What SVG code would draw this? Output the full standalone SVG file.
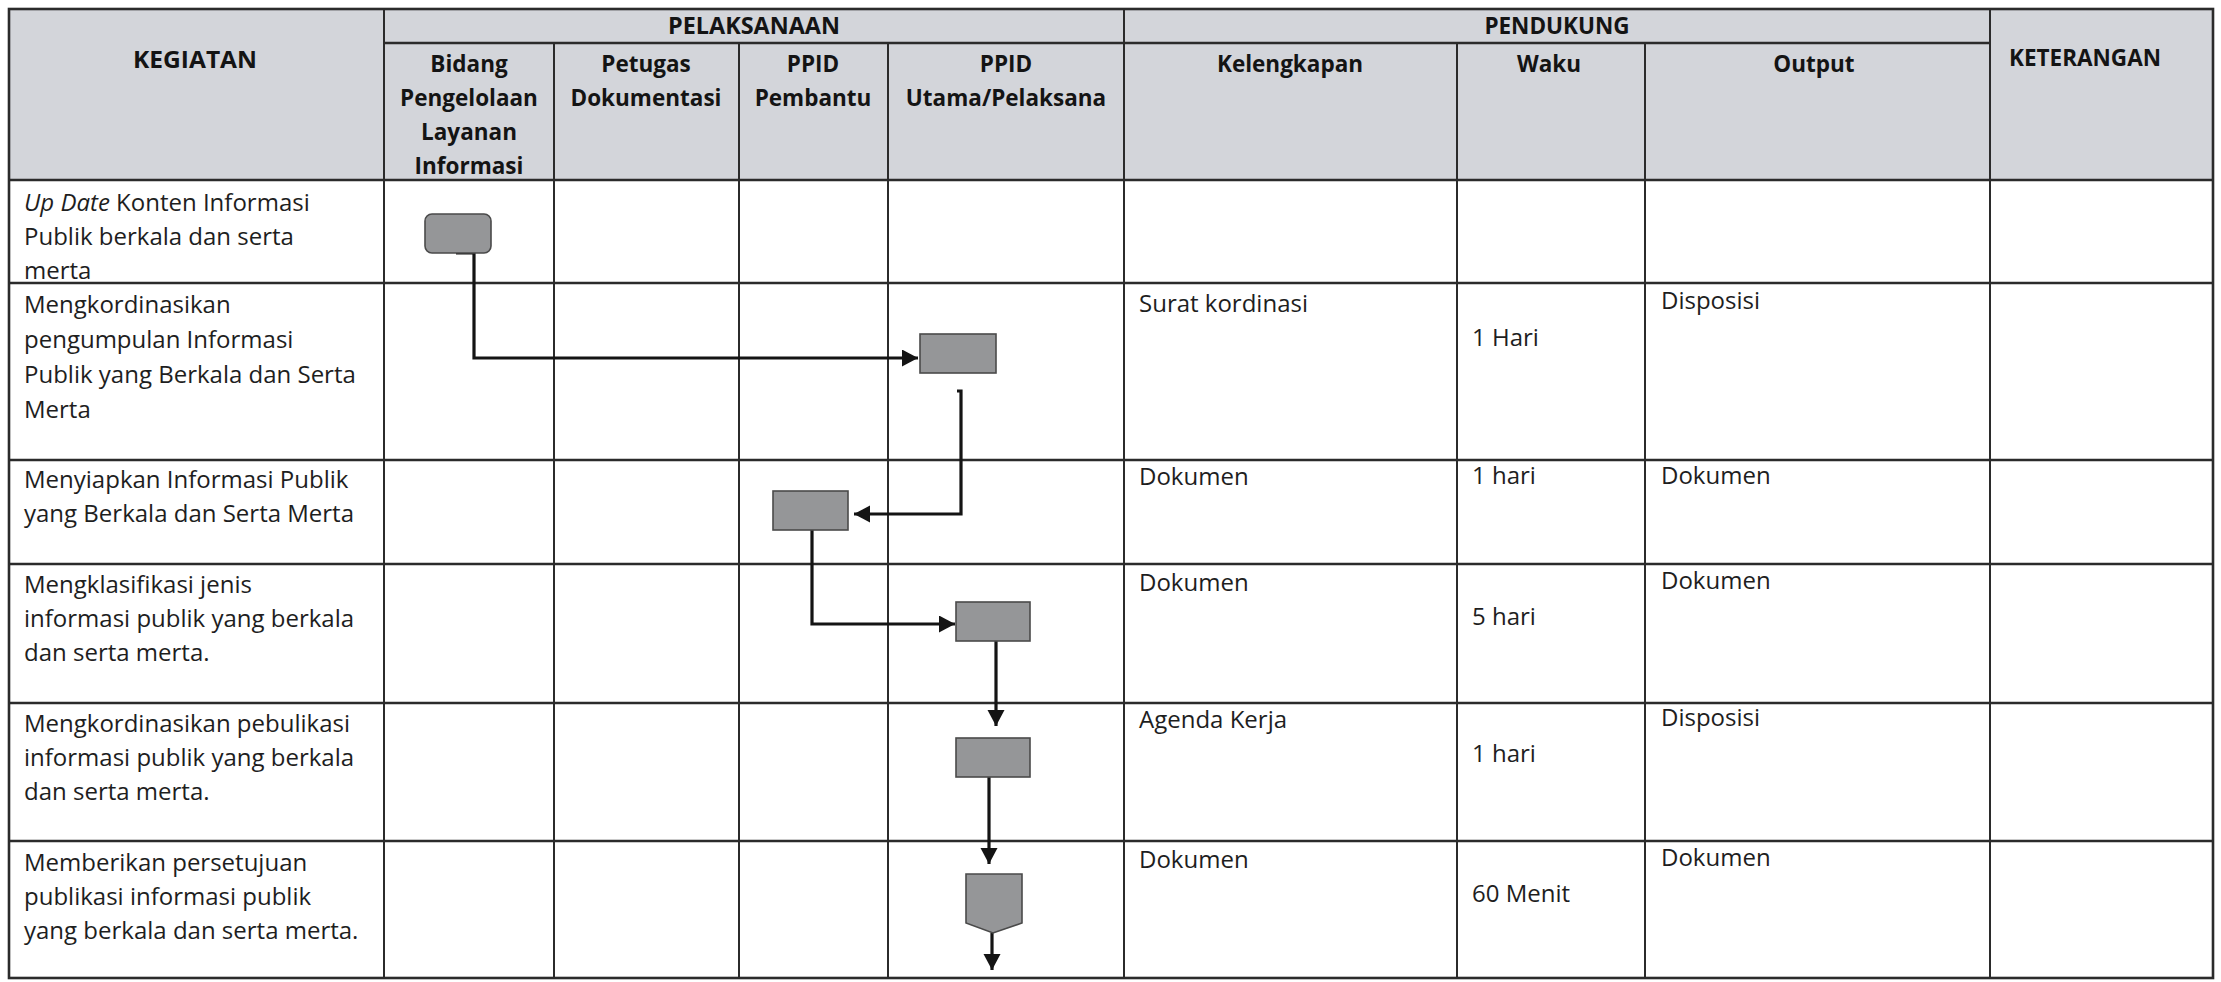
<svg xmlns="http://www.w3.org/2000/svg" width="2221" height="982" viewBox="0 0 2221 982">
<defs>
<style>
.t{font-family:"Open Sans","Noto Sans","Liberation Sans",sans-serif;font-size:24px;fill:#1e1e1e}
.h{font-family:"Open Sans","Noto Sans","Liberation Sans",sans-serif;font-size:22.5px;font-weight:bold;fill:#141414;text-anchor:middle}
.g{stroke:#2b2b2b;stroke-width:2;fill:none}
.gh{stroke:#2b2b2b;stroke-width:2.6;fill:none}
.box{fill:#959698;stroke:#4a4a4a;stroke-width:1.6}
.c{stroke:#141414;stroke-width:3.2;fill:none}
</style>
<marker id="ah" markerUnits="userSpaceOnUse" markerWidth="18" markerHeight="18" refX="16" refY="8.5" orient="auto">
<path d="M0,0 L16,8.5 L0,17 z" fill="#141414"/>
</marker>
</defs>
<rect width="2221" height="982" fill="#ffffff"/>
<g id="table">
<rect x="9" y="9" width="2204" height="171" fill="#d3d5da"/>
<rect x="9" y="9" width="2204" height="969" class="gh"/>
<line x1="384" y1="43" x2="1990" y2="43" class="gh"/>
<line x1="9" y1="180" x2="2213" y2="180" class="gh"/>
<line x1="9" y1="283" x2="2213" y2="283" class="gh"/>
<line x1="9" y1="460" x2="2213" y2="460" class="gh"/>
<line x1="9" y1="564" x2="2213" y2="564" class="gh"/>
<line x1="9" y1="703" x2="2213" y2="703" class="gh"/>
<line x1="9" y1="841" x2="2213" y2="841" class="gh"/>
<line x1="384" y1="9" x2="384" y2="978" class="g"/>
<line x1="554" y1="43" x2="554" y2="978" class="g"/>
<line x1="739" y1="43" x2="739" y2="978" class="g"/>
<line x1="888" y1="43" x2="888" y2="978" class="g"/>
<line x1="1124" y1="9" x2="1124" y2="978" class="g"/>
<line x1="1457" y1="43" x2="1457" y2="978" class="g"/>
<line x1="1645" y1="43" x2="1645" y2="978" class="g"/>
<line x1="1990" y1="9" x2="1990" y2="978" class="g"/>
</g>
<g id="header">
<text class="h" x="195" y="68" textLength="124" lengthAdjust="spacingAndGlyphs">KEGIATAN</text>
<text class="h" x="754" y="34" textLength="172" lengthAdjust="spacingAndGlyphs">PELAKSANAAN</text>
<text class="h" x="1557" y="34">PENDUKUNG</text>
<text class="h" x="2085" y="66">KETERANGAN</text>
<text class="h" x="469" y="72">Bidang</text>
<text class="h" x="469" y="106">Pengelolaan</text>
<text class="h" x="469" y="140">Layanan</text>
<text class="h" x="469" y="174">Informasi</text>
<text class="h" x="646" y="72">Petugas</text>
<text class="h" x="646" y="106">Dokumentasi</text>
<text class="h" x="813" y="72">PPID</text>
<text class="h" x="813" y="106">Pembantu</text>
<text class="h" x="1006" y="72">PPID</text>
<text class="h" x="1006" y="106">Utama/Pelaksana</text>
<text class="h" x="1290" y="72">Kelengkapan</text>
<text class="h" x="1549" y="72">Waku</text>
<text class="h" x="1814" y="72">Output</text>
</g>
<g id="kegiatan">
<text class="t" x="24" y="211"><tspan font-style="italic">Up Date</tspan> Konten Informasi</text>
<text class="t" x="24" y="245">Publik berkala dan serta</text>
<text class="t" x="24" y="279">merta</text>
<text class="t" x="24" y="313">Mengkordinasikan</text>
<text class="t" x="24" y="348">pengumpulan Informasi</text>
<text class="t" x="24" y="383">Publik yang Berkala dan Serta</text>
<text class="t" x="24" y="418">Merta</text>
<text class="t" x="24" y="488">Menyiapkan Informasi Publik</text>
<text class="t" x="24" y="522">yang Berkala dan Serta Merta</text>
<text class="t" x="24" y="593">Mengklasifikasi jenis</text>
<text class="t" x="24" y="627">informasi publik yang berkala</text>
<text class="t" x="24" y="661">dan serta merta.</text>
<text class="t" x="24" y="732">Mengkordinasikan pebulikasi</text>
<text class="t" x="24" y="766">informasi publik yang berkala</text>
<text class="t" x="24" y="800">dan serta merta.</text>
<text class="t" x="24" y="871">Memberikan persetujuan</text>
<text class="t" x="24" y="905">publikasi informasi publik</text>
<text class="t" x="24" y="939">yang berkala dan serta merta.</text>
</g>
<g id="pendukung">
<text class="t" x="1139" y="312">Surat kordinasi</text>
<text class="t" x="1472" y="346">1 Hari</text>
<text class="t" x="1661" y="309">Disposisi</text>
<text class="t" x="1139" y="485">Dokumen</text>
<text class="t" x="1472" y="484">1 hari</text>
<text class="t" x="1661" y="484">Dokumen</text>
<text class="t" x="1139" y="591">Dokumen</text>
<text class="t" x="1472" y="625">5 hari</text>
<text class="t" x="1661" y="589">Dokumen</text>
<text class="t" x="1139" y="728">Agenda Kerja</text>
<text class="t" x="1472" y="762">1 hari</text>
<text class="t" x="1661" y="726">Disposisi</text>
<text class="t" x="1139" y="868">Dokumen</text>
<text class="t" x="1472" y="902">60 Menit</text>
<text class="t" x="1661" y="866">Dokumen</text>
</g>
<g id="connectors">
<path class="c" d="M456 253 H474 V358 H918" stroke-width="3.8" marker-end="url(#ah)"/>
<path class="c" d="M957 391 H961 V514 H854" marker-end="url(#ah)"/>
<path class="c" d="M812 530 V624 H955" marker-end="url(#ah)"/>
<path class="c" d="M996 641 V726" marker-end="url(#ah)"/>
<path class="c" d="M989 777 V864" marker-end="url(#ah)"/>
<path class="c" d="M992 933 V970" marker-end="url(#ah)"/>
</g>
<g id="n1"><rect class="box" x="425" y="214" width="66" height="39" rx="7"/></g>
<g id="n2"><rect class="box" x="920" y="334" width="76" height="39"/></g>
<g id="n3"><rect class="box" x="773" y="491" width="75" height="39"/></g>
<g id="n4"><rect class="box" x="956" y="602" width="74" height="39"/></g>
<g id="n5"><rect class="box" x="956" y="738" width="74" height="39"/></g>
<g id="n6"><path class="box" d="M966 874 H1022 V923 L993 933 L966 923 Z"/></g>
</svg>
